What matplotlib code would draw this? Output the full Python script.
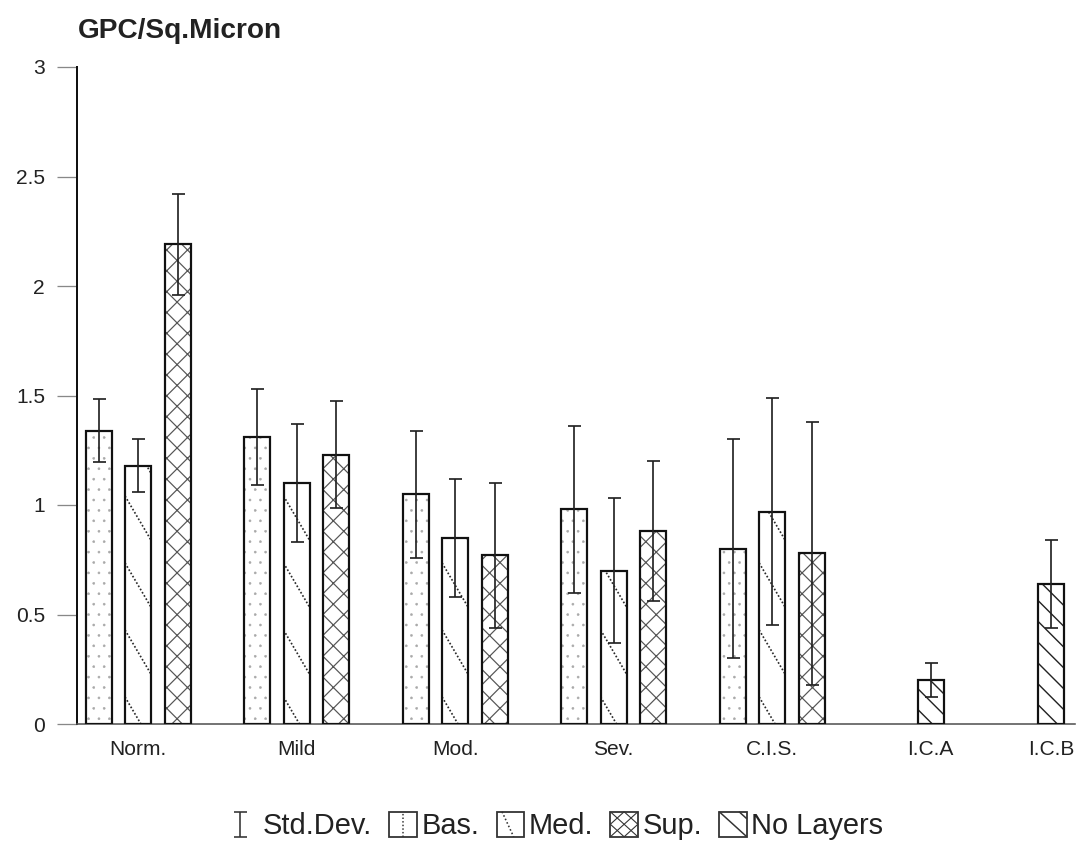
import numpy as np
import matplotlib
matplotlib.use("Agg")
import matplotlib.pyplot as plt
from matplotlib.patches import Rectangle
from matplotlib.lines import Line2D
from matplotlib.collections import LineCollection

plt.rcParams['font.family'] = ['Liberation Sans', 'DejaVu Sans']

# ---- data -------------------------------------------------------------
categories = ["Norm.", "Mild", "Mod.", "Sev.", "C.I.S.", "I.C.A", "I.C.B"]

layered_groups = ["Norm.", "Mild", "Mod.", "Sev.", "C.I.S."]
bas_mean = [1.34, 1.31, 1.05, 0.98, 0.80]
bas_sd = [0.145, 0.22, 0.29, 0.38, 0.50]
med_mean = [1.18, 1.10, 0.85, 0.70, 0.97]
med_sd = [0.12, 0.27, 0.27, 0.33, 0.52]
sup_mean = [2.19, 1.23, 0.77, 0.88, 0.78]
sup_sd = [0.23, 0.245, 0.33, 0.32, 0.60]

unlayered_groups = ["I.C.A", "I.C.B"]
nolayer_mean = [0.20, 0.64]
nolayer_sd = [0.078, 0.20]

y_ticks = [0, 0.5, 1, 1.5, 2, 2.5, 3]
y_ticklabels = ["0", "0.5", "1", "1.5", "2", "2.5", "3"]
legend_labels = ["Std.Dev.", "Bas.", "Med.", "Sup.", "No Layers"]

# ---- layout -----------------------------------------------------------
W, H, DPI = 1080, 846, 125


def pt(px):
    """pixel size -> points at the output resolution"""
    return px * 72.0 / DPI


fig = plt.figure(figsize=(W / DPI, H / DPI), dpi=DPI)
ax_rect = [77 / W, (H - 724) / H, 998 / W, (724 - 67) / H]
ax = fig.add_axes(ax_rect)

group_pos = np.array([0, 1, 2, 3, 4, 5, 5.76])
xmin, xmax = -0.385, 5.91
ymin, ymax = 0, 3

px_x = ax_rect[2] * W / (xmax - xmin)   # pixels per x unit
px_y = ax_rect[3] * H / (ymax - ymin)   # pixels per y unit

step = 39.5 / px_x
width = 26 / px_x

pos_of = dict(zip(categories, group_pos))
xl = np.array([pos_of[c] for c in layered_groups])
xu = np.array([pos_of[c] for c in unlayered_groups])


def hatched_bars(x, h, hatch, hcolor, hlw):
    with plt.rc_context({'hatch.linewidth': pt(hlw)}):
        fill = ax.bar(x, h, width, color='white', edgecolor=hcolor,
                      linewidth=0, hatch=hatch, zorder=2)
    ax.bar(x, h, width, fill=False, edgecolor='#111111', linewidth=pt(2.2),
           zorder=3)
    return fill


# basal: fine dots
hatched_bars(xl - step, bas_mean, '..', '#a8a8a8', 0.5)
# medial: sparse steep dotted diagonals
med_fill = hatched_bars(xl, med_mean, '', 'white', 0.5)
for patch in med_fill.patches:
    x0 = patch.get_x()
    hpx = patch.get_height() * px_y
    slope = 1.7          # pixels down per pixel right
    spacing = 67         # vertical pixels between lines
    segs = []
    for c in np.arange(-40, hpx + 80, spacing):
        segs.append([(x0, c / px_y),
                     (x0 + 30.0 / px_x, (c - slope * 30.0) / px_y)])
    lc = LineCollection(segs, colors='#2a2a2a', linewidths=pt(1.7),
                        linestyles=(0, (1.0, 1.2)), zorder=2.5)
    ax.add_collection(lc)
    lc.set_clip_path(patch)
# superficial: cross hatch
hatched_bars(xl + step, sup_mean, 'xx', '#555555', 1.2)
# no layers: diagonal stripes
hatched_bars(xu, nolayer_mean, '\\\\', '#222222', 1.4)

# standard deviations (capsize is the half-width of each cap)
err_kw = dict(fmt='none', ecolor='#222222', elinewidth=pt(1.7),
              capsize=pt(6.5), capthick=pt(1.7), zorder=4)
ax.errorbar(xl - step, bas_mean, yerr=bas_sd, **err_kw)
ax.errorbar(xl, med_mean, yerr=med_sd, **err_kw)
ax.errorbar(xl + step, sup_mean, yerr=sup_sd, **err_kw)
ax.errorbar(xu, nolayer_mean, yerr=nolayer_sd, **err_kw)

ax.set_xlim(xmin, xmax)
ax.set_ylim(ymin, ymax)

# ---- axes styling ------------------------------------------------------
for side in ('top', 'right'):
    ax.spines[side].set_visible(False)
ax.spines['left'].set_linewidth(pt(2.0))
ax.spines['left'].set_color('#111111')
ax.spines['bottom'].set_linewidth(pt(1.6))
ax.spines['bottom'].set_color('#555555')

ax.set_yticks(y_ticks)
ax.set_yticklabels(y_ticklabels, fontsize=pt(21), color='#222222')
ax.tick_params(axis='y', direction='out', length=pt(20), width=pt(1.3),
               color='#888888', pad=pt(12))
ax.set_xticks(group_pos)
ax.set_xticklabels(categories, fontsize=pt(21), color='#222222')
ax.tick_params(axis='x', length=0, pad=pt(16))

fig.text(78 / W, 1 - 31 / H, "GPC/Sq.Micron", fontsize=pt(28),
         fontweight='bold', color='#222222', ha='left', va='center')


# ---- legend -------------------------------------------------------------
class KeyHandler:
    """Draws a small legend key from line strokes in unit-box coordinates."""

    def __init__(self, strokes, box=True, dotted=False, lw=1.3):
        self.strokes = strokes
        self.box = box
        self.dotted = dotted
        self.lw = lw

    def legend_artist(self, legend, orig_handle, fontsize, handlebox):
        x0, y0 = -handlebox.xdescent, -handlebox.ydescent
        w, h = handlebox.width, handlebox.height
        tr = handlebox.get_transform()
        if self.box:
            handlebox.add_artist(Rectangle((x0, y0), w, h, facecolor='white',
                                           edgecolor='#333333',
                                           linewidth=pt(1.8), transform=tr))
        for (xa, ya), (xb, yb) in self.strokes:
            handlebox.add_artist(Line2D(
                [x0 + xa * w, x0 + xb * w], [y0 + ya * h, y0 + yb * h],
                color='#333333', linewidth=pt(self.lw), transform=tr,
                linestyle=(0, (1.0, 1.4)) if self.dotted else '-',
                solid_capstyle='butt'))
        return handlebox


sd_key = KeyHandler([((0.35, 0.0), (0.35, 1.0)), ((0.1, 0.0), (0.6, 0.0)),
                     ((0.1, 1.0), (0.6, 1.0))], box=False, lw=1.6)
bas_key = KeyHandler([((0.5, 0.0), (0.5, 1.0))], dotted=True, lw=1.5)
med_key = KeyHandler([((0.2, 1.0), (0.62, 0.0))], dotted=True, lw=1.6)
sup_key = KeyHandler([((0, 1), (1, 0)), ((0, 0), (1, 1)),
                      ((0.5, 1), (1, 0.5)), ((1, 0.5), (0.5, 0)),
                      ((0.5, 0), (0, 0.5)), ((0, 0.5), (0.5, 1))], lw=1.1)
nol_key = KeyHandler([((0, 1), (1, 0)), ((0.72, 1), (1, 0.72))], lw=1.5)

keys = [object() for _ in legend_labels]
leg = fig.legend(keys, legend_labels,
                 handler_map={keys[0]: sd_key, keys[1]: bas_key,
                              keys[2]: med_key, keys[3]: sup_key,
                              keys[4]: nol_key},
                 loc='center', bbox_to_anchor=(557 / W, 1 - 826 / H),
                 ncol=5, frameon=False, fontsize=pt(29),
                 handlelength=0.95, handleheight=0.95, handletextpad=0.15,
                 columnspacing=0.6, borderaxespad=0, borderpad=0)
for t in leg.get_texts():
    t.set_color('#222222')

fig.savefig("out.png", dpi=DPI, facecolor='white')
